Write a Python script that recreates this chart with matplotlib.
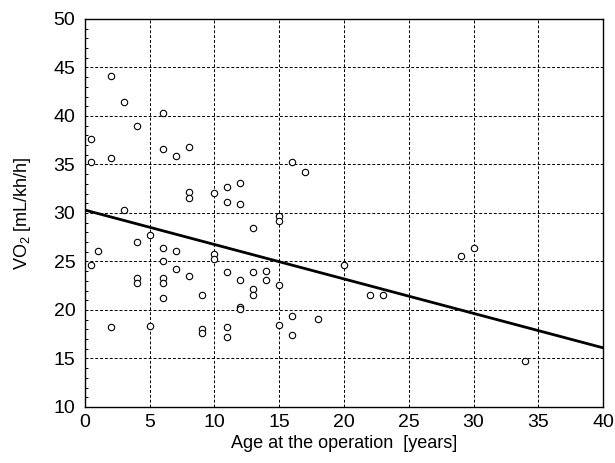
import matplotlib
matplotlib.use("Agg")
import matplotlib.pyplot as plt
from matplotlib.ticker import MultipleLocator
import numpy as np

plt.rcParams['font.family'] = ['Liberation Sans', 'DejaVu Sans']
plt.rcParams['mathtext.fontset'] = 'custom'
plt.rcParams['mathtext.rm'] = 'Liberation Sans'
plt.rcParams['mathtext.default'] = 'regular'

# age at operation [years]
age = [2, 3, 6, 4, 0.5, 6, 7, 8, 0.5, 2, 8, 8, 10, 11, 12, 11, 12, 3, 13,
       16, 17, 15, 15,
       5, 4, 1, 6, 7, 10, 10, 0.5, 6, 7, 8, 4, 4, 6, 6, 6, 9, 11, 12, 13,
       13, 13, 12, 12, 2, 5, 9, 9, 11, 11,
       14, 14, 15, 20, 22, 23, 16, 18, 15, 16,
       29, 30, 34]
# VO2 [mL/kh/h]
vo2 = [44.1, 41.4, 40.3, 39.0, 37.6, 36.6, 35.9, 36.8, 35.3, 35.7, 32.2, 31.5,
       32.1, 32.7, 33.1, 31.1, 30.9, 30.3, 28.4,
       35.3, 34.2, 29.7, 29.2,
       27.7, 27.0, 26.1, 26.4, 26.1, 25.8, 25.3, 24.6, 25.1, 24.2, 23.5, 23.3,
       22.8, 23.3, 22.8, 21.2, 21.5, 23.9, 23.1, 23.9, 22.2, 21.5, 20.3, 20.1,
       18.2, 18.3, 18.0, 17.6, 18.2, 17.2,
       24.0, 23.1, 22.6, 24.6, 21.5, 21.5, 19.35, 19.1, 18.5, 17.4,
       25.6, 26.4, 14.75]

# regression line
fit_intercept = 30.3
fit_slope = -0.355
fit_x = np.array([0, 40])

fig = plt.figure(figsize=(6.15, 4.63), dpi=100)
ax = fig.add_axes([0.1382, 0.121, 0.9805 - 0.1382, 0.959 - 0.121])

ax.plot(age, vo2, linestyle='none', marker='o', markersize=4.6,
        markerfacecolor='white', markeredgecolor='black', markeredgewidth=0.8, zorder=3)
ax.plot(fit_x, fit_intercept + fit_slope * fit_x, color='black', linewidth=2, zorder=4)

ax.set_xlim(0, 40)
ax.set_ylim(10, 50)
ax.set_xticks(np.arange(0, 41, 5))
ax.set_yticks(np.arange(10, 51, 5))
ax.yaxis.set_minor_locator(MultipleLocator(1))
ax.grid(True, color='black', linestyle=(0, (3, 2)), linewidth=0.7)
ax.set_axisbelow(True)
ax.tick_params(axis='y', which='major', direction='in', length=0, labelsize=14, pad=7)
ax.tick_params(axis='x', which='major', direction='in', length=0, labelsize=14, pad=5)
ax.tick_params(axis='y', which='minor', direction='in', length=2.5, width=0.7)
for s in ax.spines.values():
    s.set_linewidth(1.0)

ax.set_xlabel('Age at the operation  [years]', fontsize=13, labelpad=3)
ax.set_ylabel('VO$_2$ [mL/kh/h]', fontsize=13, labelpad=15)

fig.savefig('out.png', dpi=100)
